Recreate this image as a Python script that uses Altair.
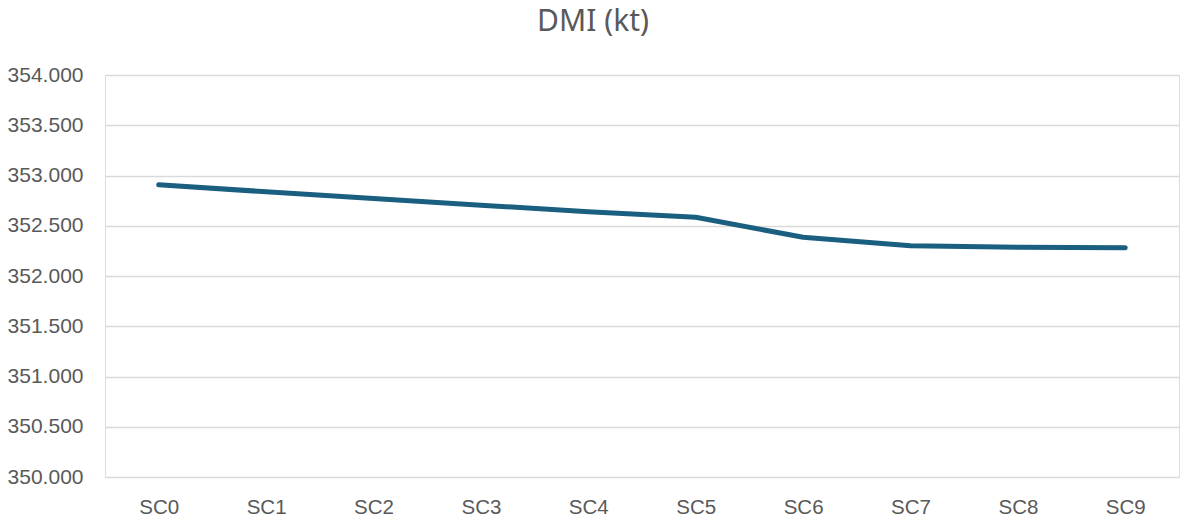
import altair as alt
import pandas as pd

# Scenario labels and dry matter intake (kt)
scenarios = ["SC0", "SC1", "SC2", "SC3", "SC4", "SC5", "SC6", "SC7", "SC8", "SC9"]
dmi_kt = [352.907, 352.838, 352.770, 352.705, 352.640, 352.585, 352.385, 352.300, 352.285, 352.280]
y_ticks = [350.0, 350.5, 351.0, 351.5, 352.0, 352.5, 353.0, 353.5, 354.0]

df = pd.DataFrame({"scenario": scenarios, "dmi": dmi_kt})

label_color = "#595959"

chart = (
    alt.Chart(df)
    .mark_line(color="#1b5f80", strokeWidth=5, strokeCap="round", strokeJoin="round")
    .encode(
        x=alt.X(
            "scenario:N",
            sort=scenarios,
            scale=alt.Scale(type="point", padding=0.5),
            axis=alt.Axis(
                title=None,
                labelAngle=0,
                labelFont="Liberation Sans",
                labelFontSize=20.5,
                labelColor=label_color,
                labelPadding=20,
                domain=False,
                ticks=False,
                grid=False,
            ),
        ),
        y=alt.Y(
            "dmi:Q",
            scale=alt.Scale(domain=[350, 354], nice=False, zero=False),
            axis=alt.Axis(
                title=None,
                values=y_ticks,
                format=".3f",
                labelFont="Liberation Sans",
                labelFontSize=21,
                labelColor=label_color,
                labelPadding=22,
                domain=False,
                ticks=False,
                gridColor="#d9d9d9",
                gridWidth=1.5,
            ),
        ),
    )
    .properties(
        width=1074,
        height=402,
        title=alt.TitleParams(
            "DMI (kt)",
            font="Noto Sans",
            fontSize=30,
            fontWeight="normal",
            color=label_color,
            anchor="middle",
            frame="bounds",
            offset=27,
        ),
        autosize=alt.AutoSizeParams(type="none"),
        padding={"left": 105, "top": 75, "right": 3, "bottom": 43},
    )
    .configure_view(stroke=None)
    .configure(background="white")
)

chart.save("out.html", embed_options={"renderer": "svg", "actions": False})
